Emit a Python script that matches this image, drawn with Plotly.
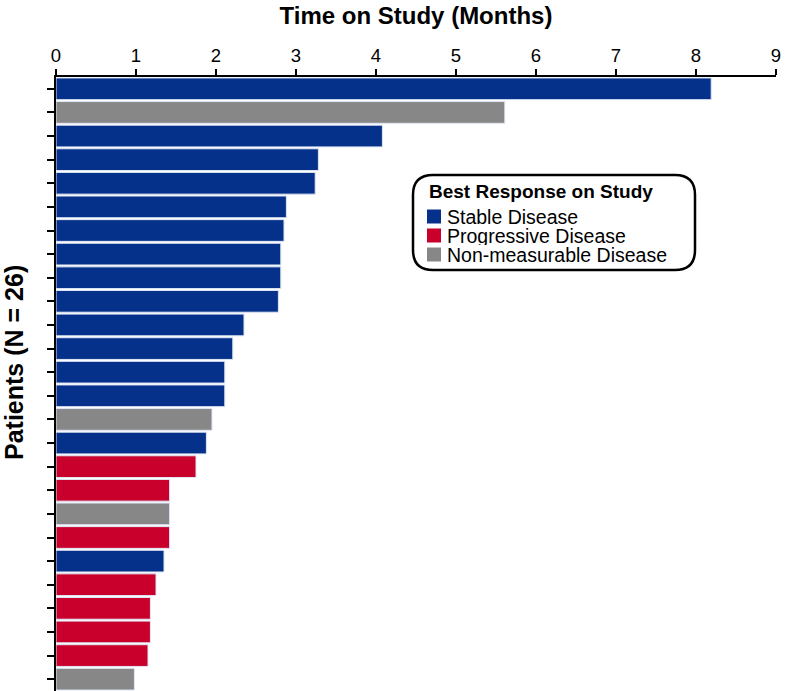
import plotly.graph_objects as go

# Data (patients ordered from longest to shortest time on study)
patients = list(range(1, 27))
months = [8.19, 5.61, 4.08, 3.28, 3.24, 2.88, 2.85, 2.81, 2.81, 2.78,
          2.35, 2.21, 2.11, 2.11, 1.95, 1.88, 1.75, 1.42, 1.42, 1.42,
          1.35, 1.25, 1.18, 1.18, 1.15, 0.98]
response = ["SD", "NM", "SD", "SD", "SD", "SD", "SD", "SD", "SD", "SD",
            "SD", "SD", "SD", "SD", "NM", "SD", "PD", "PD", "NM", "PD",
            "SD", "PD", "PD", "PD", "PD", "NM"]
categories = ["SD", "PD", "NM"]
category_names = {"SD": "Stable Disease", "PD": "Progressive Disease",
                  "NM": "Non-measurable Disease"}
colors = {"SD": "#06318a", "PD": "#c8002b", "NM": "#878787"}
x_ticks = list(range(0, 10))
legend_title = "Best Response on Study"
y_title = "Patients (N = 26)"
x_title = "Time on Study (Months)"

W, H = 786, 691
SL, ST, SR, SB = 56, 77, 776, 691          # plot area in page pixels
L, T, R, B = SL, ST, W - SR, H - SB
PW, PH = W - L - R, H - T - B


def px(x):
    return (x - L) / PW


def py(y):
    return (H - B - y) / PH


fig = go.Figure()
for c in categories:
    ys = [p for p, r in zip(patients, response) if r == c]
    xs = [m for m, r in zip(months, response) if r == c]
    fig.add_trace(go.Bar(
        y=ys, x=xs, orientation="h", name=category_names[c],
        marker=dict(color=colors[c], line=dict(color="#dfe6f5", width=1)),
        width=0.92, showlegend=False,
    ))

# rounded legend box
x0, x1, y0, y1 = px(413), px(695), py(270), py(175)
rx, ry = 20 / PW, 20 / PH
path = (f"M {x0+rx},{y1} L {x1-rx},{y1} Q {x1},{y1} {x1},{y1-ry} "
        f"L {x1},{y0+ry} Q {x1},{y0} {x1-rx},{y0} "
        f"L {x0+rx},{y0} Q {x0},{y0} {x0},{y0+ry} "
        f"L {x0},{y1-ry} Q {x0},{y1} {x0+rx},{y1} Z")
fig.add_shape(type="path", path=path, xref="paper", yref="paper",
              line=dict(color="black", width=2.5), fillcolor="white")

fig.add_annotation(x=px(427), y=py(191), xref="paper", yref="paper",
                   text=f"<b>{legend_title}</b>", showarrow=False,
                   xanchor="left", yanchor="middle", font=dict(size=19))
for i, c in enumerate(categories):
    cy = 216.5 + i * 19
    fig.add_shape(type="rect", xref="paper", yref="paper",
                  x0=px(427), x1=px(441), y0=py(cy + 7), y1=py(cy - 7),
                  fillcolor=colors[c], line=dict(width=0))
    fig.add_annotation(x=px(445), y=py(cy), xref="paper", yref="paper",
                       text=category_names[c], showarrow=False,
                       xanchor="left", yanchor="middle", font=dict(size=19.5),
                       height=19, valign="middle")

# y-axis title
fig.add_annotation(x=px(14), y=py(363), xref="paper", yref="paper",
                   text=f"<b>{y_title}</b>", showarrow=False, textangle=-90,
                   xanchor="center", yanchor="middle", font=dict(size=25))

fig.update_layout(
    width=W, height=H,
    margin=dict(l=L, r=R, t=T, b=B, autoexpand=False),
    plot_bgcolor="white", paper_bgcolor="white",
    barmode="overlay", showlegend=False,
    font=dict(family="Liberation Sans, Arial, sans-serif", color="black"),
    xaxis=dict(
        side="top", range=[0, 9], tickvals=x_ticks, automargin=False,
        tickfont=dict(size=18.5), showgrid=False, zeroline=False,
        showline=True, linecolor="black", linewidth=2,
        ticks="outside", ticklen=6, tickwidth=2, tickcolor="black",
        title=dict(text=f"<b>{x_title}</b>", font=dict(size=24), standoff=13),
    ),
    yaxis=dict(
        range=[26.5, 0.5], tickvals=patients, ticktext=[""] * 26, automargin=False,
        showgrid=False, zeroline=False,
        showline=True, linecolor="black", linewidth=2,
        ticks="outside", ticklen=7, tickwidth=2, tickcolor="black",
    ),
)

fig.write_html(
    "out.html",
    config={"displayModeBar": False},
    post_script="document.body.style.margin='0';document.body.style.overflow='hidden';",
)
